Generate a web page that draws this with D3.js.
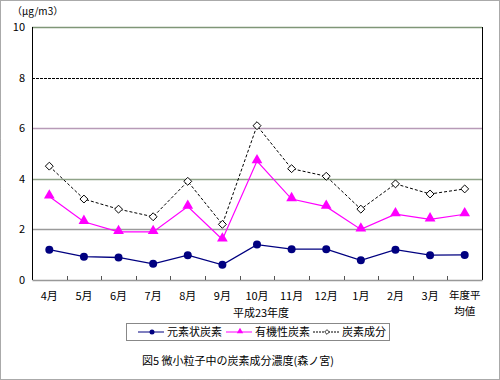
<!DOCTYPE html>
<html>
<head>
<meta charset="utf-8">
<script src="https://d3js.org/d3.v7.min.js"></script>
<style>
  body { margin: 0; background: #fff; }
  text { font-family: "Noto Sans CJK JP", sans-serif; fill: #000; }
</style>
</head>
<body>
<div id="chart"></div>
<script>
// Chart data
const months = ['4月', '5月', '6月', '7月', '8月', '9月', '10月', '11月', '12月', '1月', '2月', '3月', '年度平均値'];
const elemental = [1.2, 0.92, 0.89, 0.64, 0.98, 0.6, 1.4, 1.22, 1.22, 0.78, 1.2, 0.98, 0.99];
const organic = [3.3, 2.3, 1.9, 1.9, 2.9, 1.6, 4.7, 3.2, 2.9, 2.0, 2.6, 2.4, 2.6];
const carbon = [4.5, 3.2, 2.8, 2.5, 3.9, 2.2, 6.1, 4.4, 4.1, 2.8, 3.8, 3.4, 3.6];
const yTicks = [0, 2, 4, 6, 8, 10];
const gridColors = { 2: '#9a9a9a', 4: '#8fa388', 6: '#b79ab7', 8: '#000', 10: '#7f9677' };

const WIDTH = 500, HEIGHT = 380;
const MARGIN = { left: 32, top: 27, right: 18, bottom: 100 };
const CHART_WIDTH = WIDTH - MARGIN.left - MARGIN.right;
const CHART_HEIGHT = HEIGHT - MARGIN.top - MARGIN.bottom;

const svg = d3.select('#chart').append('svg')
    .attr('width', WIDTH)
    .attr('height', HEIGHT);

// outer frame
svg.append('rect')
    .attr('x', 0.5).attr('y', 0.5)
    .attr('width', WIDTH - 1).attr('height', HEIGHT - 1)
    .attr('fill', 'none')
    .attr('stroke', '#555')
    .attr('stroke-dasharray', '1,1');

const g = svg.append('g')
    .attr('transform', `translate(${MARGIN.left}, ${MARGIN.top})`);

const xScale = d3.scaleBand()
    .domain(months)
    .range([0, CHART_WIDTH]);

const yScale = d3.scaleLinear()
    .domain([0, 10])
    .range([CHART_HEIGHT, 0]);

// gridlines
g.selectAll('.grid')
    .data(yTicks.filter(d => d > 0))
    .enter()
    .append('line')
    .attr('class', 'grid')
    .attr('x1', 0).attr('x2', CHART_WIDTH)
    .attr('y1', d => Math.round(yScale(d)) + 0.5)
    .attr('y2', d => Math.round(yScale(d)) + 0.5)
    .attr('stroke', d => gridColors[d])
    .attr('stroke-width', d => d === 8 ? 1 : 1.5)
    .attr('stroke-dasharray', d => d === 8 ? '3,1' : null);

// right border
g.append('line')
    .attr('x1', CHART_WIDTH + 0.5).attr('x2', CHART_WIDTH + 0.5)
    .attr('y1', yScale(10)).attr('y2', CHART_HEIGHT)
    .attr('stroke', '#000');

// y axis
const yAxis = g.append('g')
    .call(d3.axisLeft(yScale).tickValues(yTicks).tickSize(0).tickPadding(7));
yAxis.select('.domain').attr('stroke', '#000').attr('d', `M0.5,0V${CHART_HEIGHT}`);
yAxis.selectAll('text').style('font-size', '11px').attr('fill', '#000');

// x axis
const xAxis = g.append('g')
    .attr('transform', `translate(0, ${CHART_HEIGHT})`)
    .call(d3.axisBottom(xScale).tickSize(0).tickPadding(12));
xAxis.select('.domain').attr('stroke', '#999').attr('stroke-width', 1.5);
xAxis.selectAll('text').style('font-size', '11px').attr('fill', '#000');
// the annual average label is drawn on two lines below
xAxis.selectAll('.tick').filter(d => d === '年度平均値').select('text').remove();

// inward ticks on category boundaries
g.selectAll('.xtick')
    .data(months.slice(1))
    .enter()
    .append('line')
    .attr('x1', d => Math.round(xScale(d)) + 0.5)
    .attr('x2', d => Math.round(xScale(d)) + 0.5)
    .attr('y1', CHART_HEIGHT)
    .attr('y2', CHART_HEIGHT - 4)
    .attr('stroke', '#555');

// two-line label for annual average
const last = months[months.length - 1];
const lastX = xScale(last) + xScale.bandwidth() / 2;
g.append('text')
    .attr('x', lastX).attr('y', CHART_HEIGHT + 19)
    .attr('text-anchor', 'middle').style('font-size', '10.5px')
    .text('年度平');
g.append('text')
    .attr('x', lastX).attr('y', CHART_HEIGHT + 34.5)
    .attr('text-anchor', 'middle').style('font-size', '10.5px')
    .text('均値');

const cx = d => xScale(d) + xScale.bandwidth() / 2;

function drawSeries(values, color, width, dash) {
    const line = d3.line()
        .x((d, i) => cx(months[i]))
        .y(d => yScale(d));
    g.append('path')
        .datum(values)
        .attr('d', line)
        .attr('fill', 'none')
        .attr('stroke', color)
        .attr('stroke-width', width)
        .attr('stroke-dasharray', dash);
}

drawSeries(carbon, '#000', 1, '3,2');
drawSeries(organic, '#ff00ff', 1.2, null);
drawSeries(elemental, '#000080', 1.3, null);

// markers
g.selectAll('.m-carbon')
    .data(carbon)
    .enter()
    .append('path')
    .attr('d', d3.symbol().type(d3.symbolDiamond2).size(40))
    .attr('transform', (d, i) => `translate(${cx(months[i])}, ${yScale(d)})`)
    .attr('fill', '#fff')
    .attr('stroke', '#000')
    .attr('stroke-width', 1);

g.selectAll('.m-organic')
    .data(organic)
    .enter()
    .append('path')
    .attr('d', d3.symbol().type(d3.symbolTriangle).size(50))
    .attr('transform', (d, i) => `translate(${cx(months[i])}, ${yScale(d) - 1})`)
    .attr('fill', '#ff00ff');

g.selectAll('.m-elem')
    .data(elemental)
    .enter()
    .append('circle')
    .attr('cx', (d, i) => cx(months[i]))
    .attr('cy', d => yScale(d))
    .attr('r', 4)
    .attr('fill', '#000080');

// unit label
svg.append('text')
    .attr('x', 12).attr('y', 15)
    .style('font-size', '10px')
    .text('（μg/m3）');

// x title
svg.append('text')
    .attr('x', 261).attr('y', 317)
    .attr('text-anchor', 'middle')
    .style('font-size', '11px')
    .text('平成23年度');

// legend
const legend = svg.append('g');
legend.append('rect')
    .attr('x', 126.5).attr('y', 323.5)
    .attr('width', 263).attr('height', 17)
    .attr('fill', '#fff')
    .attr('stroke', '#888');

const legendItems = [
    { name: '元素状炭素', x: 138, color: '#000080', dash: null, mark: 'circle' },
    { name: '有機性炭素', x: 226, color: '#ff00ff', dash: null, mark: 'triangle' },
    { name: '炭素成分', x: 313, color: '#000', dash: '2,1', mark: 'diamond' }
];
const ly = 332;
legendItems.forEach(item => {
    legend.append('line')
        .attr('x1', item.x).attr('x2', item.x + 26)
        .attr('y1', ly).attr('y2', ly)
        .attr('stroke', item.color)
        .attr('stroke-dasharray', item.dash);
    const mx = item.x + 14;
    if (item.mark === 'circle') {
        legend.append('circle').attr('cx', mx).attr('cy', ly).attr('r', 2.5).attr('fill', item.color);
    } else if (item.mark === 'triangle') {
        legend.append('path')
            .attr('d', d3.symbol().type(d3.symbolTriangle).size(18))
            .attr('transform', `translate(${mx}, ${ly - 0.5})`)
            .attr('fill', item.color);
    } else {
        legend.append('path')
            .attr('d', d3.symbol().type(d3.symbolDiamond2).size(14))
            .attr('transform', `translate(${mx}, ${ly})`)
            .attr('fill', '#fff').attr('stroke', '#000').attr('stroke-width', 0.8);
    }
    legend.append('text')
        .attr('x', item.x + 29).attr('y', ly + 4)
        .style('font-size', '11px')
        .text(item.name);
});

// caption
svg.append('text')
    .attr('x', 142).attr('y', 365)
    .style('font-size', '11px')
    .text('図5 微小粒子中の炭素成分濃度(森ノ宮)');
</script>
</body>
</html>
